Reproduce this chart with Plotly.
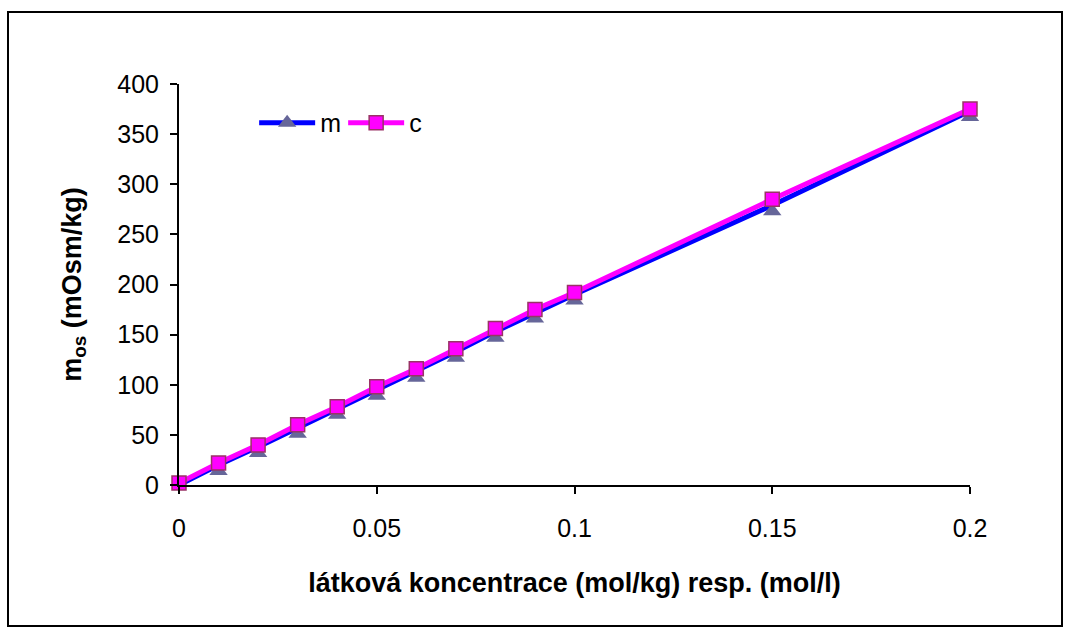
import plotly.graph_objects as go

# concentration (mol/kg resp. mol/l)
konc = [0, 0.01, 0.02, 0.03, 0.04, 0.05, 0.06, 0.07, 0.08, 0.09, 0.1, 0.15, 0.2]
# osmolality from molal concentration
m_vals = [0, 20, 38, 57, 76, 95, 113, 133, 153, 172, 190, 279, 373]
# osmolality from molar concentration
c_vals = [2, 22, 40, 60, 78, 98, 116, 136, 156, 175, 192, 285, 375]

x_ticks = [0, 0.05, 0.1, 0.15, 0.2]
x_labels = ["0", "0.05", "0.1", "0.15", "0.2"]
y_ticks = [0, 50, 100, 150, 200, 250, 300, 350, 400]

Y_RANGE = [0, 400]
# triangle markers sit with their base below the data point (spreadsheet style),
# so they are drawn on an overlay axis whose range is nudged a few units
TRI_NUDGE = 6
tri_marker = dict(symbol="triangle-up", size=16, color="#666699", line=dict(width=0))
sq_marker = dict(symbol="square", size=14, color="#FF00FF",
                 line=dict(color="#993366", width=1.5))

fig = go.Figure()
# m: line
fig.add_trace(go.Scatter(
    x=konc, y=m_vals, name="m", mode="lines", showlegend=False, legendgroup="m",
    line=dict(color="#0000FF", width=5), yaxis="y",
))
# m: legend entry
fig.add_trace(go.Scatter(
    x=[None], y=[None], name="m", mode="lines+markers", legendgroup="m",
    line=dict(color="#0000FF", width=5), marker=tri_marker, yaxis="y",
))
# m: triangle markers
fig.add_trace(go.Scatter(
    x=konc, y=m_vals, name="m", mode="markers", showlegend=False, legendgroup="m",
    cliponaxis=False, marker=tri_marker, yaxis="y2",
))
# c: line + square markers
fig.add_trace(go.Scatter(
    x=konc, y=c_vals, name="c", mode="lines+markers", cliponaxis=False,
    line=dict(color="#FF00FF", width=5), marker=sq_marker, yaxis="y3",
))

font = "Liberation Sans, Arial, sans-serif"
fig.update_layout(
    width=1067, height=628,
    margin=dict(l=179, r=97, t=84, b=143),
    paper_bgcolor="white", plot_bgcolor="white",
    font=dict(family=font, size=25, color="black"),
    showlegend=True,
    legend=dict(orientation="h", x=0.095, y=0.903, xanchor="left", yanchor="middle",
                bgcolor="rgba(0,0,0,0)", font=dict(size=25), itemwidth=56,
                entrywidth=18, entrywidthmode="pixels", tracegroupgap=0),
    xaxis=dict(range=[0, 0.2], tickvals=x_ticks, ticktext=x_labels,
               showgrid=False, zeroline=False, showline=True, linecolor="black", linewidth=2,
               ticks="outside", ticklen=7, tickwidth=2, tickcolor="black",
               ticklabelstandoff=13,
               title=dict(text="<b>látková koncentrace (mol/kg) resp. (mol/l)</b>",
                          font=dict(size=27), standoff=32)),
    yaxis=dict(range=Y_RANGE, tickvals=y_ticks,
               showgrid=False, zeroline=False, showline=True, linecolor="black", linewidth=2,
               ticks="outside", ticklen=7, tickwidth=2, tickcolor="black",
               ticklabelstandoff=6,
               title=dict(text="<b>m<sub>os</sub> (mOsm/kg)</b>",
                          font=dict(size=27), standoff=28)),
    yaxis2=dict(range=[Y_RANGE[0] + TRI_NUDGE, Y_RANGE[1] + TRI_NUDGE], overlaying="y",
                visible=False, showgrid=False, zeroline=False),
    yaxis3=dict(range=Y_RANGE, overlaying="y", visible=False, showgrid=False, zeroline=False),
    shapes=[dict(type="rect", xref="paper", yref="paper",
                 x0=(8 - 179) / 791, x1=(1062 - 179) / 791,
                 y0=(485 - 626) / 401, y1=(485 - 12) / 401,
                 line=dict(color="black", width=2), fillcolor="rgba(0,0,0,0)", layer="below")],
)

fig.write_html("out.html")
